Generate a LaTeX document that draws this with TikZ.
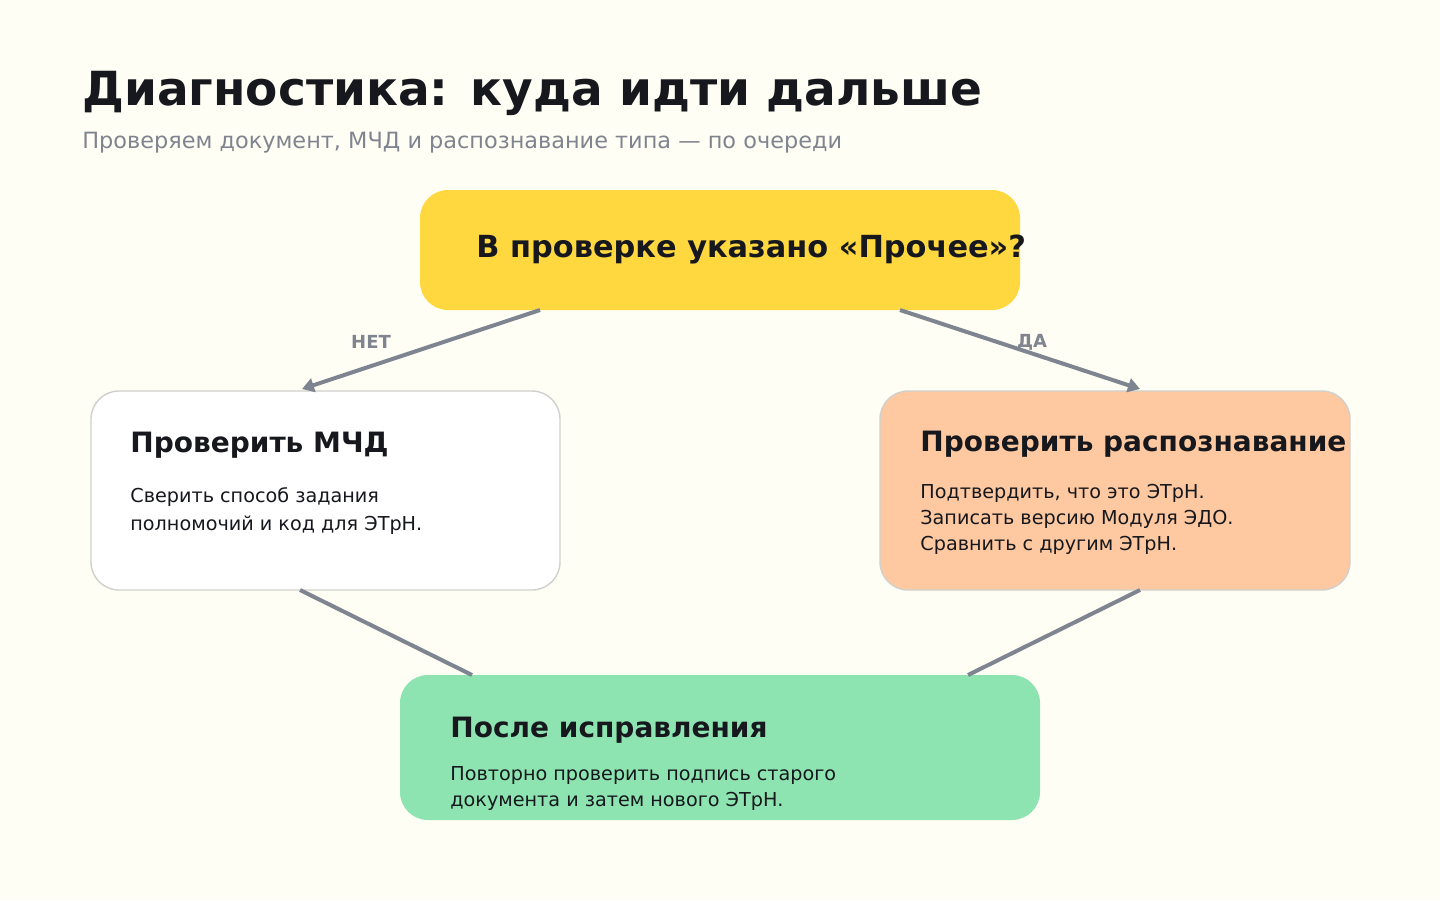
\documentclass[tikz,border=0pt]{standalone}
\usepackage{fontspec}
\setmainfont{DejaVu Sans}
\usetikzlibrary{arrows.meta}
\definecolor{bg}{HTML}{FFFEF5}
\definecolor{ink}{HTML}{16181D}
\definecolor{sub}{HTML}{80848F}
\definecolor{yel}{HTML}{FFD840}
\definecolor{peach}{HTML}{FEC8A0}
\definecolor{mint}{HTML}{8DE4B1}
\definecolor{edge}{HTML}{7F8491}
\definecolor{bord}{HTML}{D0D0CC}
\tikzset{
  box/.style={rounded corners=14pt},
  t/.style={anchor=base west, inner sep=0pt, text=ink},
  h/.style={t, font=\bfseries\fontsize{14}{16}\selectfont},
  b/.style={t, font=\fontsize{9.6}{12}\selectfont},
  conn/.style={draw=edge, line width=2pt},
  arr/.style={conn, -{Triangle[length=6pt,width=7pt]}},
  lab/.style={font=\bfseries\fontsize{9}{10}\selectfont, text=sub, inner sep=0pt}
}
\begin{document}
\begin{tikzpicture}[x=0.5pt,y=-0.5pt]
\fill[bg] (0,0) rectangle (1440,900);
\useasboundingbox (0,0) rectangle (1440,900);
\node[t, font=\bfseries\fontsize{23.5}{26}\selectfont] (title) at (82,105) {Диагностика: куда идти дальше};
\node[t, text=sub, font=\fontsize{11.2}{13}\selectfont] (subt) at (82,148) {Проверяем документ, МЧД и распознавание типа — по очереди};

\fill[yel, box] (420,190) rectangle (1020,310);
\node[t, font=\bfseries\fontsize{15.2}{17}\selectfont] (q) at (476,257) {В проверке указано «Прочее»?};

\filldraw[fill=white, draw=bord, line width=0.7pt, box] (91,391) rectangle (560,590);
\node[h] (mh) at (130,452) {Проверить МЧД};
\node[b] (m1) at (130,502) {Сверить способ задания};
\node[b] (m2) at (130,530) {полномочий и код для ЭТрН.};

\filldraw[fill=peach, draw=bord, line width=0.7pt, box] (880,391) rectangle (1350,590);
\node[h] (rh) at (920,451) {Проверить распознавание};
\node[b] (r1) at (920,498) {Подтвердить, что это ЭТрН.};
\node[b] (r2) at (920,524) {Записать версию Модуля ЭДО.};
\node[b] (r3) at (920,550) {Сравнить с другим ЭТрН.};

\fill[mint, box] (400,675) rectangle (1040,820);
\node[h] (bh) at (450,737) {После исправления};
\node[b] (b1) at (450,780) {Повторно проверить подпись старого};
\node[b] (b2) at (450,806) {документа и затем нового ЭТрН.};

\coordinate (qL) at (540,310); \coordinate (qR) at (900,310);
\coordinate (mT) at (302,389); \coordinate (rT) at (1140,389);
\coordinate (mB) at (300,590); \coordinate (rB) at (1140,590);
\coordinate (bL) at (472,675); \coordinate (bR) at (968,675);
\draw[arr] (qL) -- (mT);
\draw[arr] (qR) -- (rT);
\draw[conn] (mB) -- (bL);
\draw[conn] (rB) -- (bR);
\node[lab] (no) at (371,342) {НЕТ};
\node[lab] (yes) at (1032,342) {ДА};
\end{tikzpicture}
\end{document}
